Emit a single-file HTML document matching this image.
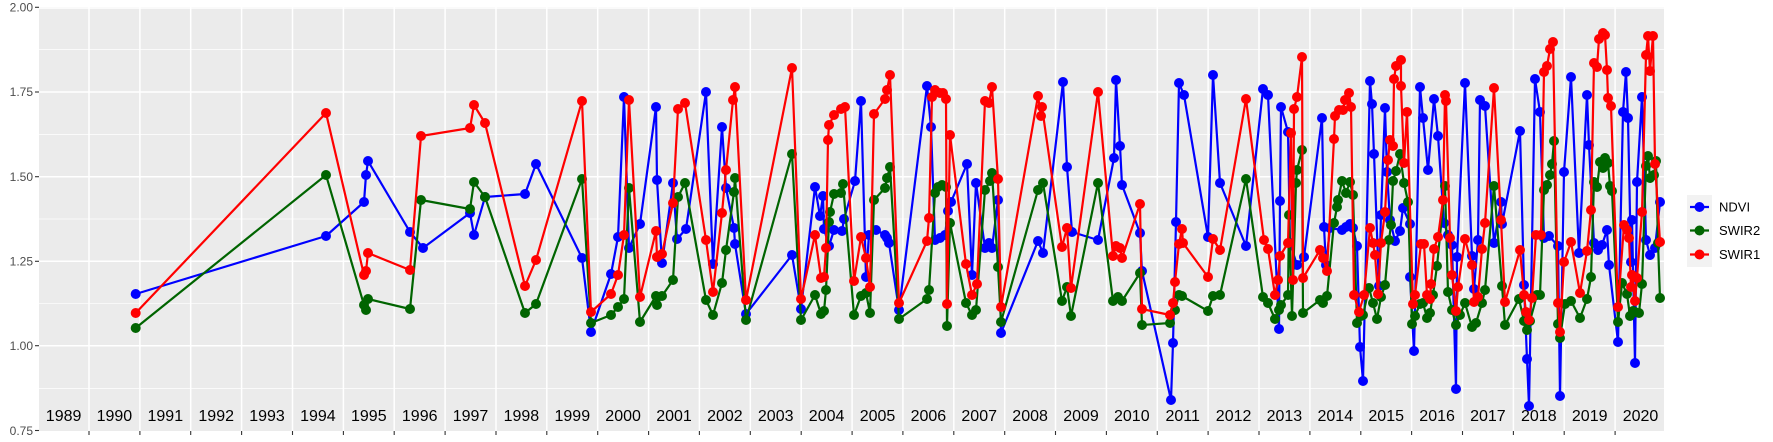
<!DOCTYPE html>
<html><head><meta charset="utf-8"><style>
html,body{margin:0;padding:0;background:#fff;}
svg{display:block;}
text{font-family:"Liberation Sans",Arial,sans-serif;}
</style></head><body>
<svg width="1773" height="442" viewBox="0 0 1773 442" xmlns="http://www.w3.org/2000/svg">
<defs>
<marker id="mb" markerUnits="userSpaceOnUse" markerWidth="12" markerHeight="12" refX="6" refY="6"><circle cx="6" cy="6" r="5" fill="#0000FF"/></marker>
<marker id="mg" markerUnits="userSpaceOnUse" markerWidth="12" markerHeight="12" refX="6" refY="6"><circle cx="6" cy="6" r="5" fill="#006400"/></marker>
<marker id="mr" markerUnits="userSpaceOnUse" markerWidth="12" markerHeight="12" refX="6" refY="6"><circle cx="6" cy="6" r="5" fill="#FF0000"/></marker>
</defs>
<rect x="39" y="7" width="1625" height="424" fill="#EBEBEB"/>
<g stroke="#fff" stroke-width="0.7">
<line x1="39" x2="1664" y1="49.6" y2="49.6"/><line x1="39" x2="1664" y1="134.4" y2="134.4"/><line x1="39" x2="1664" y1="219" y2="219"/><line x1="39" x2="1664" y1="303.7" y2="303.7"/><line x1="39" x2="1664" y1="388.5" y2="388.5"/>
</g>
<g stroke="#fff" stroke-width="1.5">
<line x1="39" x2="1664" y1="8" y2="8"/><line x1="39" x2="1664" y1="92" y2="92"/><line x1="39" x2="1664" y1="176.7" y2="176.7"/><line x1="39" x2="1664" y1="261.3" y2="261.3"/><line x1="39" x2="1664" y1="345.7" y2="345.7"/>
</g>
<g id="vg" stroke="#fff" stroke-width="1.5"></g>
<g stroke="#333" stroke-width="1.1">
<line x1="35" x2="39" y1="7.3" y2="7.3"/><line x1="35" x2="39" y1="92" y2="92"/><line x1="35" x2="39" y1="176.7" y2="176.7"/><line x1="35" x2="39" y1="261.3" y2="261.3"/><line x1="35" x2="39" y1="345.7" y2="345.7"/><line x1="35" x2="39" y1="430.5" y2="430.5"/>
</g>
<g font-size="12" fill="#4D4D4D" text-anchor="end">
<text x="33" y="11.5">2.00</text><text x="33" y="96">1.75</text><text x="33" y="181">1.50</text><text x="33" y="265.5">1.25</text><text x="33" y="350">1.00</text><text x="33" y="435">0.75</text>
</g>
<g stroke="#fff" stroke-width="1.5">
<line x1="89" x2="89" y1="7" y2="431"/><line x1="139.9" x2="139.9" y1="7" y2="431"/><line x1="190.7" x2="190.7" y1="7" y2="431"/><line x1="241.6" x2="241.6" y1="7" y2="431"/><line x1="292.5" x2="292.5" y1="7" y2="431"/><line x1="343.4" x2="343.4" y1="7" y2="431"/><line x1="394.2" x2="394.2" y1="7" y2="431"/><line x1="445.1" x2="445.1" y1="7" y2="431"/><line x1="496" x2="496" y1="7" y2="431"/><line x1="546.8" x2="546.8" y1="7" y2="431"/><line x1="597.7" x2="597.7" y1="7" y2="431"/><line x1="648.6" x2="648.6" y1="7" y2="431"/><line x1="699.4" x2="699.4" y1="7" y2="431"/><line x1="750.3" x2="750.3" y1="7" y2="431"/><line x1="801.2" x2="801.2" y1="7" y2="431"/><line x1="852.1" x2="852.1" y1="7" y2="431"/><line x1="902.9" x2="902.9" y1="7" y2="431"/><line x1="953.8" x2="953.8" y1="7" y2="431"/><line x1="1004.7" x2="1004.7" y1="7" y2="431"/><line x1="1055.5" x2="1055.5" y1="7" y2="431"/><line x1="1106.4" x2="1106.4" y1="7" y2="431"/><line x1="1157.3" x2="1157.3" y1="7" y2="431"/><line x1="1208.1" x2="1208.1" y1="7" y2="431"/><line x1="1259" x2="1259" y1="7" y2="431"/><line x1="1309.9" x2="1309.9" y1="7" y2="431"/><line x1="1360.8" x2="1360.8" y1="7" y2="431"/><line x1="1411.6" x2="1411.6" y1="7" y2="431"/><line x1="1462.5" x2="1462.5" y1="7" y2="431"/><line x1="1513.4" x2="1513.4" y1="7" y2="431"/><line x1="1564.2" x2="1564.2" y1="7" y2="431"/><line x1="1615.1" x2="1615.1" y1="7" y2="431"/>
</g>
<g stroke="#333" stroke-width="1.1">
<line x1="89" x2="89" y1="431" y2="435"/><line x1="139.9" x2="139.9" y1="431" y2="435"/><line x1="190.7" x2="190.7" y1="431" y2="435"/><line x1="241.6" x2="241.6" y1="431" y2="435"/><line x1="292.5" x2="292.5" y1="431" y2="435"/><line x1="343.4" x2="343.4" y1="431" y2="435"/><line x1="394.2" x2="394.2" y1="431" y2="435"/><line x1="445.1" x2="445.1" y1="431" y2="435"/><line x1="496" x2="496" y1="431" y2="435"/><line x1="546.8" x2="546.8" y1="431" y2="435"/><line x1="597.7" x2="597.7" y1="431" y2="435"/><line x1="648.6" x2="648.6" y1="431" y2="435"/><line x1="699.4" x2="699.4" y1="431" y2="435"/><line x1="750.3" x2="750.3" y1="431" y2="435"/><line x1="801.2" x2="801.2" y1="431" y2="435"/><line x1="852.1" x2="852.1" y1="431" y2="435"/><line x1="902.9" x2="902.9" y1="431" y2="435"/><line x1="953.8" x2="953.8" y1="431" y2="435"/><line x1="1004.7" x2="1004.7" y1="431" y2="435"/><line x1="1055.5" x2="1055.5" y1="431" y2="435"/><line x1="1106.4" x2="1106.4" y1="431" y2="435"/><line x1="1157.3" x2="1157.3" y1="431" y2="435"/><line x1="1208.1" x2="1208.1" y1="431" y2="435"/><line x1="1259" x2="1259" y1="431" y2="435"/><line x1="1309.9" x2="1309.9" y1="431" y2="435"/><line x1="1360.8" x2="1360.8" y1="431" y2="435"/><line x1="1411.6" x2="1411.6" y1="431" y2="435"/><line x1="1462.5" x2="1462.5" y1="431" y2="435"/><line x1="1513.4" x2="1513.4" y1="431" y2="435"/><line x1="1564.2" x2="1564.2" y1="431" y2="435"/><line x1="1615.1" x2="1615.1" y1="431" y2="435"/>
</g>
<g font-size="16" fill="#000" text-anchor="middle">
<text x="63.6" y="421">1989</text><text x="114.4" y="421">1990</text><text x="165.3" y="421">1991</text><text x="216.2" y="421">1992</text><text x="267" y="421">1993</text><text x="317.9" y="421">1994</text><text x="368.8" y="421">1995</text><text x="419.7" y="421">1996</text><text x="470.5" y="421">1997</text><text x="521.4" y="421">1998</text><text x="572.3" y="421">1999</text><text x="623.1" y="421">2000</text><text x="674" y="421">2001</text><text x="724.9" y="421">2002</text><text x="775.7" y="421">2003</text><text x="826.6" y="421">2004</text><text x="877.5" y="421">2005</text><text x="928.4" y="421">2006</text><text x="979.2" y="421">2007</text><text x="1030.1" y="421">2008</text><text x="1081" y="421">2009</text><text x="1131.8" y="421">2010</text><text x="1182.7" y="421">2011</text><text x="1233.6" y="421">2012</text><text x="1284.4" y="421">2013</text><text x="1335.3" y="421">2014</text><text x="1386.2" y="421">2015</text><text x="1437.1" y="421">2016</text><text x="1487.9" y="421">2017</text><text x="1538.8" y="421">2018</text><text x="1589.7" y="421">2019</text><text x="1640.5" y="421">2020</text>
</g>
<g fill="none" stroke-width="2.2" stroke-linejoin="round">
<polyline stroke="#0000FF" marker-start="url(#mb)" marker-mid="url(#mb)" marker-end="url(#mb)" points="135.7,294 326,236 364,202 366,175 368,161 410,232 423,248 470,213 474,235 485,197 525,194 536,164 582,258 591,332 611,274 618,237 624,97 629,248 640,224 656,107 657,180 662,263 673,183 677,239 686,229 706,92 713,264 722,127 726,188 734,228 735,244 746,314 792,255 801,309 815,187 820,216 823,196 824,229 829,246 834,230 842,231 844,219 855,181 861,101 866,277 869,235 876,230 885,235 887,238 889,243 899,310 927,86 931,127 935,240 940,238 945,235 948,211 951,202 967,164 972,275 976,183 985,248 989,243 992,248 998,200 1001,333 1038,241 1043,253 1063,82 1067,167 1072,232 1098,240 1114,158 1116,80 1120,146 1122,185 1140,233 1142,271 1171,400 1173,343 1176,222 1179,83 1184,95 1208,237 1213,75 1220,183 1246,246 1263,89 1268,95 1279,329 1280,201 1281,107 1288,132 1290,243 1297,265 1304,257 1322,118 1324,227 1326,265 1330,228 1342,230 1346,227 1350,224 1353,228 1357,246 1360,347 1363,381 1370,81 1372,104 1374,154 1379,286 1381,215 1385,108 1387,172 1390,220 1395,241 1400,231 1403,208 1410,224 1410,277 1414,351 1420,87 1423,118 1428,170 1434,99 1438,136 1444,223 1448,235 1452,245 1456,389 1457,257 1465,83 1472,256 1474,289 1478,240 1480,100 1485,106 1494,243 1501,202 1502,224 1520,131 1524,285 1527,359 1529,406 1535,79 1540,112 1544,238 1549,236 1558,246 1560,396 1564,172 1571,77 1579,253 1587,95 1589,145 1594,243 1598,250 1602,245 1607,230 1609,265 1618,342 1623,112 1626,72 1628,118 1631,262 1632,220 1635,363 1637,182 1642,97 1646,240 1650,255 1655,248 1660,202"/>
<polyline stroke="#006400" marker-start="url(#mg)" marker-mid="url(#mg)" marker-end="url(#mg)" points="135.7,328 326,175 364,305 366,310 368,299 410,309 421,200 470,209 474,182 485,197 525,313 536,304 582,179 591,323 611,315 618,307 624,299 629,188 640,322 656,296 657,305 662,296 673,280 678,197 685,183 706,300 713,315 722,283 726,250 734,192 735,178 746,320 792,154 801,320 815,295 821,314 824,311 826,290 829,222 830,212 834,194 841,193 843,184 854,315 861,296 866,293 870,313 874,200 885,188 887,178 890,167 899,319 927,299 929,290 935,193 938,187 942,185 946,187 947,326 950,223 966,303 972,315 976,310 985,190 990,181 992,173 998,267 1001,322 1038,190 1043,183 1062,301 1067,287 1071,316 1098,183 1113,301 1118,297 1122,301 1140,273 1142,325 1170,323 1175,310 1179,295 1182,296 1208,311 1213,296 1220,295 1246,179 1263,297 1268,303 1275,319 1279,310 1281,305 1288,295 1289,215 1292,316 1296,183 1297,170 1302,150 1303,313 1320,300 1323,303 1327,296 1334,223 1337,207 1338,200 1342,181 1346,193 1350,182 1353,195 1357,323 1361,316 1363,315 1369,288 1373,303 1377,319 1381,297 1385,285 1389,240 1391,225 1393,181 1396,171 1400,154 1404,183 1408,202 1412,324 1415,316 1420,304 1423,303 1427,318 1430,313 1433,295 1437,266 1445,186 1448,292 1452,310 1456,325 1460,315 1465,303 1472,327 1476,323 1482,303 1485,290 1494,186 1502,286 1505,325 1519,299 1524,321 1527,330 1530,321 1537,295 1540,295 1544,190 1547,185 1550,175 1552,164 1554,141 1558,324 1560,338 1565,304 1571,301 1580,318 1587,299 1591,277 1594,182 1597,187 1600,162 1603,168 1605,158 1608,163 1610,186 1612,191 1618,322 1622,283 1627,294 1630,316 1633,311 1635,312 1639,313 1642,284 1646,166 1648,156 1650,178 1654,175 1656,161 1658,243 1660,298"/>
<polyline stroke="#FF0000" marker-start="url(#mr)" marker-mid="url(#mr)" marker-end="url(#mr)" points="135.7,313 326,113 364,275 366,271 368,253 410,270 421,136 470,128 474,105 485,123 525,286 536,260 582,101 591,312 611,294 618,275 624,235 629,100 640,297 656,231 657,257 662,254 673,203 678,109 685,103 706,240 713,292 722,213 726,170 733,100 735,87 746,300 792,68 801,299 815,235 821,278 824,277 826,248 828,140 829,125 834,115 841,109 845,107 854,281 861,237 866,258 870,287 874,114 885,99 887,90 890,75 899,303 927,241 929,218 932,97 935,90 940,93 943,93 946,99 947,304 950,135 966,264 972,295 977,284 985,101 989,103 992,87 998,179 1001,307 1038,96 1041,116 1042,107 1062,247 1067,228 1071,288 1098,92 1113,256 1116,246 1120,248 1122,258 1140,204 1142,309 1170,315 1173,303 1175,282 1179,244 1182,229 1183,243 1208,277 1213,239 1220,250 1246,99 1264,240 1268,249 1275,295 1278,280 1280,256 1288,243 1291,133 1293,280 1294,109 1297,97 1302,57 1303,278 1320,250 1323,258 1327,271 1334,139 1335,116 1339,110 1343,110 1345,100 1349,93 1351,107 1354,295 1359,312 1364,295 1370,228 1373,243 1375,255 1378,294 1381,243 1385,212 1388,160 1390,140 1393,146 1394,79 1396,66 1401,60 1401,86 1404,163 1407,112 1413,304 1415,295 1421,244 1424,244 1427,295 1430,299 1431,284 1434,249 1438,237 1443,200 1445,95 1446,101 1450,238 1452,275 1456,311 1458,287 1465,239 1472,265 1474,302 1478,297 1482,249 1485,223 1494,88 1501,220 1505,302 1520,250 1524,295 1526,312 1529,320 1532,298 1536,235 1541,235 1544,72 1547,66 1550,49 1553,42 1558,303 1560,332 1564,262 1571,242 1580,293 1587,251 1591,210 1594,63 1597,67 1599,39 1603,33 1605,35 1607,70 1608,98 1611,106 1618,307 1624,225 1627,230 1629,238 1631,287 1632,275 1635,301 1637,278 1642,212 1646,55 1648,36 1650,71 1653,36 1655,164 1660,242"/>
</g>
<rect x="1687" y="195" width="25" height="72" fill="#F2F2F2"/>
<g stroke-width="2.2">
<line x1="1690" x2="1709" y1="207" y2="207" stroke="#0000FF"/><circle cx="1699.5" cy="207" r="5" fill="#0000FF"/>
<line x1="1690" x2="1709" y1="230.5" y2="230.5" stroke="#006400"/><circle cx="1699.5" cy="230.5" r="5" fill="#006400"/>
<line x1="1690" x2="1709" y1="254.5" y2="254.5" stroke="#FF0000"/><circle cx="1699.5" cy="254.5" r="5" fill="#FF0000"/>
</g>
<g font-size="13" fill="#000">
<text x="1719" y="211.5">NDVI</text><text x="1719" y="235">SWIR2</text><text x="1719" y="259">SWIR1</text>
</g>
</svg>
</body></html>
